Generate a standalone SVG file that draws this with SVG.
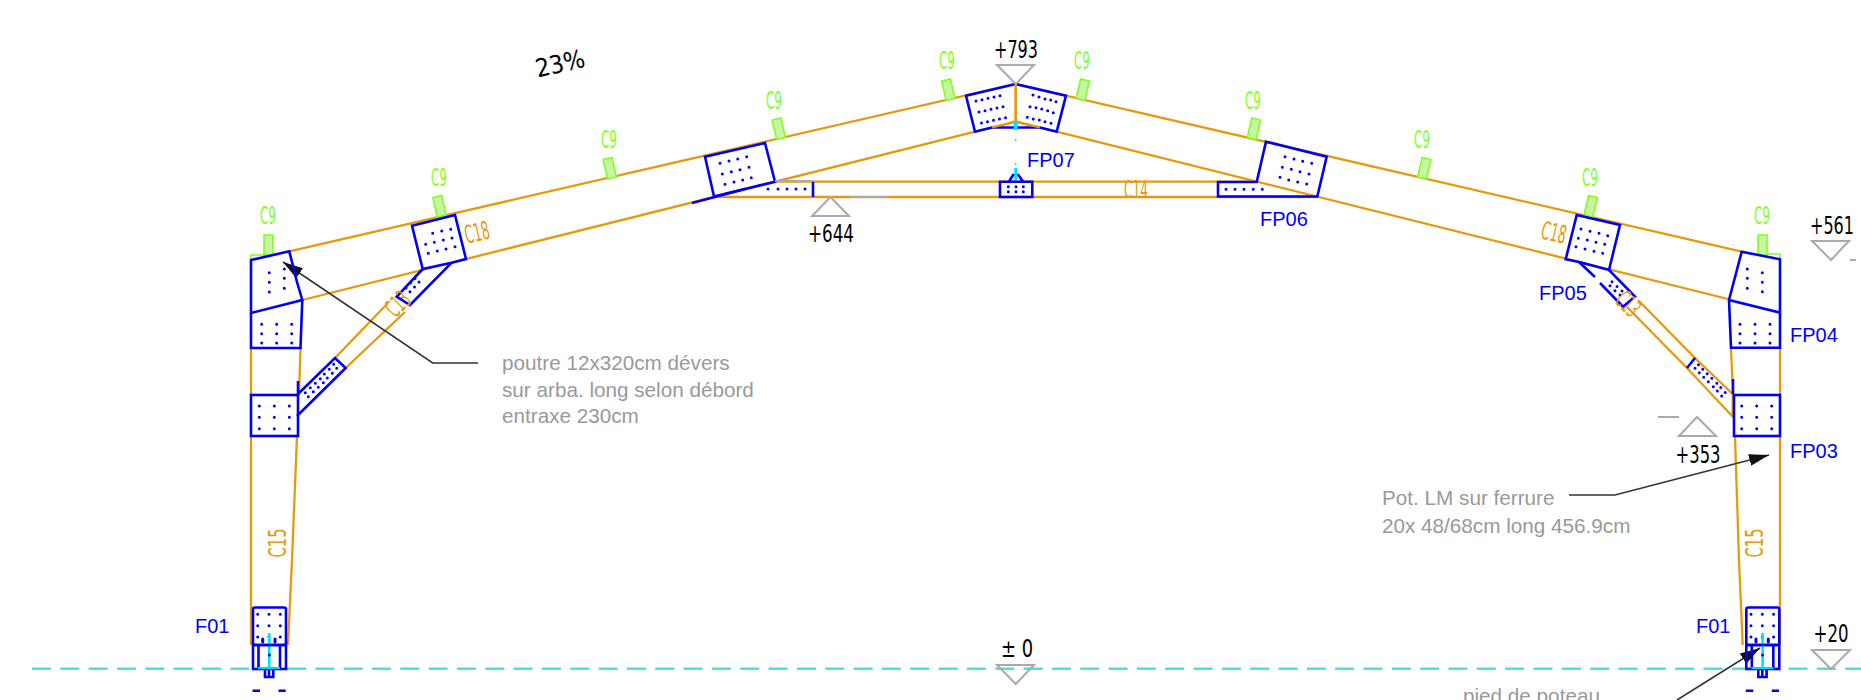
<svg xmlns="http://www.w3.org/2000/svg" width="1861" height="700" viewBox="0 0 1861 700">
<style>
.o{fill:none;stroke:#e59a0c;stroke-width:2.3}
.b{fill:none;stroke:#0000f5;stroke-width:2.6;stroke-linejoin:miter}
.d{fill:none;stroke:#0000f5;stroke-width:3;stroke-linecap:round}
.p{fill:#c8f5a4;stroke:#80ff20;stroke-width:1.6}
.gl{fill:none;stroke:#80ff20;stroke-width:1.6}
.t{fill:none;stroke:#aaa;stroke-width:2}
.lead{fill:none;stroke:#333;stroke-width:1.6}
.k{font-family:"DejaVu Sans Condensed","DejaVu Sans",sans-serif;font-size:25px;fill:#000;text-anchor:middle}
.g{font-family:"DejaVu Sans Condensed","DejaVu Sans",sans-serif;font-size:25px;fill:#80ff20;text-anchor:middle}
.c{font-family:"DejaVu Sans Condensed","DejaVu Sans",sans-serif;font-size:25px;fill:#e59a0c;text-anchor:middle}
.l{font-family:"Liberation Sans",Arial,sans-serif;font-size:20px;fill:#0000f5}
.n{font-family:"Liberation Sans",Arial,sans-serif;font-size:20.7px;fill:#999}
</style>
<defs>
<marker id="ah" markerUnits="userSpaceOnUse" markerWidth="22" markerHeight="12" refX="20" refY="6" orient="auto"><path d="M0 0L20 6L0 12Z" fill="#111"/></marker>
<g id="foot">
<rect class="b" x="253" y="607.5" width="33" height="37.5" rx="2"/>
<path class="d" d="M257.7 614.3h0M269 614.3h0M280.3 614.3h0M257.7 625.7h0M269 625.7h0M280.3 625.7h0M257.7 637h0M269 637h0M280.3 637h0M262.7 639v3M275 639v3"/>
<path d="M269.3 633V667" stroke="#00e5f0" stroke-width="2.6" fill="none"/>
<path class="d" d="M269.3 655h0"/>
<rect class="b" x="253" y="645" width="33" height="24" stroke-width="3"/>
<path class="b" d="M258.5 645V669M280 645V669"/>
<path d="M258 668H280" stroke="#00d8e8" stroke-width="2" fill="none"/>
<path class="b" d="M265 669V677H273.3V669M269 669V677" stroke-width="2"/>
<path class="b" d="M252.5 690.7H260M278.5 690.7H285.7"/>
</g>
<polygon id="pur" class="p" points="-4.5,0 -4.5,-20 4.5,-20 4.5,0"/>
</defs>
<rect width="1861" height="700" fill="#fff"/>

<g id="connectors">
<path d="M32 668.8H1861" stroke="#4fdfe0" stroke-width="2.6" stroke-dasharray="19 9.33" fill="none"/>
<path class="o" d="M289.3 251.3L1015.7 84L1741.7 251.7"/>
<path class="o" d="M302.3 300L975 131.7L992 127.5L1015.7 121.7L1040 127.5L1056.7 131.7L1728 299"/>
<path class="o" d="M1015.7 84V121.7"/>
<path class="o" d="M713 197H1318M775 181.7H1257"/>
<path class="o" d="M251 348V395M251 436V645M300.5 348L299 395M297 436L292 560L288 645"/>
<path class="o" d="M1780 348V395M1780 436V645M1731 348L1733 395M1735 436L1739 560L1742.7 645"/>
<path class="o" d="M388 303L335 358M405 312L345.7 368"/>
<path class="o" d="M1638 300L1695 358L1732.7 394V416.7L1687 368L1627 307"/>
<path d="M850 197H888" stroke="#aaa" stroke-width="2" fill="none"/>
<path class="lead" d="M478 363H432.7L283 262" marker-end="url(#ah)"/>
<path class="lead" d="M1569 495H1615L1769 455" marker-end="url(#ah)"/>
<path class="lead" d="M1677 700L1760 648" marker-end="url(#ah)"/>
</g>

<g id="purlins">
<g transform="translate(268.5,255) rotate(0)"><use href="#pur"/></g>
<path class="gl" d="M251 259V255H264"/>
<g transform="translate(441.7,216) rotate(-13)"><use href="#pur"/></g>
<g transform="translate(612,178) rotate(-13)"><use href="#pur"/></g>
<g transform="translate(781,138.5) rotate(-13)"><use href="#pur"/></g>
<g transform="translate(950.5,99.5) rotate(-13)"><use href="#pur"/></g>
<g transform="translate(1080.5,99.5) rotate(13)"><use href="#pur"/></g>
<g transform="translate(1251.7,138.5) rotate(13)"><use href="#pur"/></g>
<g transform="translate(1422,178) rotate(13)"><use href="#pur"/></g>
<g transform="translate(1588.5,216) rotate(13)"><use href="#pur"/></g>
<g transform="translate(1762.5,255)"><use href="#pur"/></g>
<path class="gl" d="M1767 254H1780V258"/>
</g>

<g id="F01-left"><use href="#foot"/></g>
<g id="F01-right"><use href="#foot" x="1493.3"/></g>

<g id="FP01-left-knee">
<path class="b" d="M251 260L289.3 251.3L297 282L302.3 300L251 313ZM251 313V348H300.5L302.3 300"/>
<rect class="b" x="251" y="395" width="47" height="41" stroke-width="3"/>
<path class="b" d="M298 381V394M298 394L335 358L345.7 368L297 416"/>
<path class="d" d="M269.3 272.7h0M269.3 282.3h0M269.3 292h0M284.3 269h0M284.3 278.3h0M284.3 288.3h0M261.7 324.3h0M276.7 324.3h0M291.7 324.3h0M261.7 333.7h0M276.7 333.7h0M291.7 333.7h0M261.7 343h0M276.7 343h0M291.7 343h0M259.3 406h0M274.3 406h0M289.3 406h0M259.3 417.3h0M274.3 417.3h0M289.3 417.3h0M259.3 428.7h0M274.3 428.7h0M289.3 428.7h0"/>
<path class="d" stroke-width="2.6" d="M308.3 396.7h0M313.3 391.7h0M318.3 387.3h0M323.3 382.7h0M327.3 378h0M332.3 373.3h0M336.7 368.3h0M305.3 392.7h0M310.3 387.7h0M315.3 383.3h0M320.3 378.7h0M324.3 374h0M329.3 369.3h0M333.7 364.3h0"/>
</g>

<g id="FP-left-mid">
<path class="b" d="M412 225.7L455 215L466 259L451.7 262.7L422.7 269Z"/>
<path class="b" d="M422.7 269L396.7 296.7L410 305L451.7 262.7"/>
<path class="d" d="M432.7 233.3h0M441.7 231h0M450.7 229.3h0M425.7 244.3h0M434.3 242.3h0M443.3 240h0M452 238h0M428.3 253.3h0M437.3 251h0M446 249h0M455 246.7h0M410 291.7h0M414.5 287h0M419 282h0M406 288h0M410.5 283h0M415 278.5h0"/>
</g>

<g id="FP-left-rafter">
<path class="b" d="M705 156.7L765 143L775 181.7L714 196.5Z"/>
<path class="b" d="M692 203L745 189"/>
<path class="b" d="M813 181.7V197"/>
<path d="M775 181H813" stroke="#aaa" stroke-width="2" fill="none"/>
<path class="d" d="M720 163.3h0M729 161h0M737.7 159h0M746.7 156.7h0M722.3 174h0M731.3 171.7h0M740 169.7h0M749 167.3h0M725 184.3h0M734 182h0M742.7 180h0M751.3 177.7h0M768 189h0M778 189h0M787 189h0M796 189h0M805 189h0"/>
</g>

<g id="FP07-apex">
<path class="b" d="M1015.7 84L966 95.7L975 131.7L992 127.5H1040L1056.7 131.7L1066 95.7L1015.7 84"/>
<path class="o" d="M1015.7 84V121.7M992 127.5L1015.7 121.7L1040 127.5"/>
<path class="d" d="M976 101h0M982 99.7h0M988 98.3h0M994 97h0M1000 95.7h0M979 112h0M985 110.7h0M991 109.3h0M997 108h0M1003 106.7h0M981.5 123h0M987.5 121.7h0M993.5 120.3h0M999.5 119h0M1005.5 117.7h0M1033 95h0M1039 97h0M1045 99h0M1050.7 100h0M1056 101.7h0M1030 106.7h0M1036 107.7h0M1041.7 109h0M1047.7 110.7h0M1053.3 112.7h0M1027.3 117.3h0M1033.3 119h0M1039.3 120h0M1045 121.7h0M1051 123.3h0"/>
</g>

<g id="FP07-tie">
<path class="b" d="M1000 181.7H1032.3V197H1000ZM1009 181.7L1013 175H1018.3L1023.3 181.7"/>
<path class="d" d="M1008.3 186.7h0M1016 186.7h0M1023.3 186.7h0M1008.3 191.7h0M1016 191.7h0M1023.3 191.7h0"/>
<path d="M1015.7 122V130" stroke="#00e5ff" stroke-width="4" fill="none"/>
<path d="M1015.7 139v2M1015.7 163v2" stroke="#00e5ff" stroke-width="1.5" fill="none"/>
<path d="M1015.7 168V180" stroke="#00e5ff" stroke-width="3" fill="none"/>
</g>

<g id="FP06">
<path class="b" d="M1266 141.7L1326.7 156.7L1317.3 196.5H1218V182H1256.7Z"/>
<path class="d" d="M1285 156.7h0M1294 159h0M1302.7 161.3h0M1311.7 163.3h0M1282.3 167.3h0M1291.3 169.3h0M1300 171.7h0M1309 174h0M1280 177.3h0M1288.7 180h0M1297.7 182h0M1306.7 184h0M1226 189.3h0M1235 189.3h0M1244 189.3h0M1253.3 189.3h0M1262.3 189.3h0"/>
</g>

<g id="FP05">
<path class="b" d="M1576.7 215L1620 225L1609 270L1579 262L1565.7 259.3Z"/>
<path class="b" d="M1579 262L1595 277M1600 283L1623 306.7L1635 296.7L1609 270"/>
<path class="d" d="M1581 229h0M1590 231.3h0M1599 233.3h0M1607.7 235.7h0M1578.3 238.3h0M1587.3 240h0M1596 242.3h0M1604.7 244.3h0M1576 246.7h0M1585 249h0M1594 251.3h0M1602.7 253.3h0M1610 285.7h0M1615 290.7h0M1620 295h0M1612 281.7h0M1617 286.5h0M1622 291h0"/>
</g>

<g id="FP04-FP03">
<path class="b" d="M1741.7 251.7L1780 259.3V312.7L1729 300L1741.7 251.7ZM1729 300L1731 347.7H1780V312.7"/>
<rect class="b" x="1734" y="395" width="46" height="41" stroke-width="3"/>
<path class="b" d="M1733 379V394M1687 368L1695 358"/>
<path class="d" d="M1747.3 269h0M1747.3 278.3h0M1747.3 288.3h0M1762.3 272.7h0M1762.3 282.3h0M1762.3 291.7h0M1740 324.3h0M1755 324.3h0M1770 324.3h0M1740 333.7h0M1755 333.7h0M1770 333.7h0M1740 343h0M1755 343h0M1770 343h0M1741.7 406h0M1756.7 406h0M1771.7 406h0M1741.7 417.3h0M1756.7 417.3h0M1771.7 417.3h0M1741.7 428.7h0M1756.7 428.7h0M1771.7 428.7h0"/>
<path class="d" stroke-width="2.6" d="M1695 368.3h0M1699.3 372.7h0M1703.7 377.3h0M1708.3 381.7h0M1713.3 386.7h0M1717.3 391h0M1721.7 396h0M1698.5 364.8h0M1702.8 369.2h0M1707.2 373.8h0M1711.8 378.2h0M1716.8 383.2h0M1720.8 387.5h0M1725.2 392.5h0"/>
</g>

<g id="levels">
<path class="t" d="M997 65H1034L1015.7 84ZM812 216H849L830.5 197ZM1812 241H1849L1831 260ZM1850 260H1856M1679 436H1716L1697 417ZM1658 417H1679M1812 650H1850L1831 669ZM997 665H1034L1015.7 684Z"/>
<text class="k" x="1016" y="58" textLength="44" lengthAdjust="spacingAndGlyphs">+793</text>
<text class="k" x="831" y="242" textLength="46" lengthAdjust="spacingAndGlyphs">+644</text>
<text class="k" x="1832" y="234" textLength="44" lengthAdjust="spacingAndGlyphs">+561</text>
<text class="k" x="1698" y="463" textLength="45" lengthAdjust="spacingAndGlyphs">+353</text>
<text class="k" x="1831" y="642" textLength="35" lengthAdjust="spacingAndGlyphs">+20</text>
<text class="k" x="1017" y="657" textLength="32" lengthAdjust="spacingAndGlyphs">± 0</text>
<text class="k" transform="translate(562,72) rotate(-13)" textLength="50" lengthAdjust="spacingAndGlyphs">23%</text>
</g>

<g id="labels">
<text class="g" x="268" y="224" textLength="16" lengthAdjust="spacingAndGlyphs">C9</text>
<text class="g" x="439" y="186" textLength="16" lengthAdjust="spacingAndGlyphs">C9</text>
<text class="g" x="609" y="148" textLength="16" lengthAdjust="spacingAndGlyphs">C9</text>
<text class="g" x="774" y="109" textLength="16" lengthAdjust="spacingAndGlyphs">C9</text>
<text class="g" x="947" y="69" textLength="16" lengthAdjust="spacingAndGlyphs">C9</text>
<text class="g" x="1082" y="69" textLength="16" lengthAdjust="spacingAndGlyphs">C9</text>
<text class="g" x="1253" y="109" textLength="16" lengthAdjust="spacingAndGlyphs">C9</text>
<text class="g" x="1422" y="148" textLength="16" lengthAdjust="spacingAndGlyphs">C9</text>
<text class="g" x="1590" y="186" textLength="16" lengthAdjust="spacingAndGlyphs">C9</text>
<text class="g" x="1762" y="224" textLength="16" lengthAdjust="spacingAndGlyphs">C9</text>
<text class="c" transform="translate(479,241) rotate(-13)" textLength="25" lengthAdjust="spacingAndGlyphs">C18</text>
<text class="c" transform="translate(1552,241) rotate(13)" textLength="25" lengthAdjust="spacingAndGlyphs">C18</text>
<text class="c" x="1136" y="198" textLength="24" lengthAdjust="spacingAndGlyphs">C14</text>
<text class="c" transform="translate(286,543) rotate(-90)" textLength="29" lengthAdjust="spacingAndGlyphs">C15</text>
<text class="c" transform="translate(1763,543) rotate(-90)" textLength="29" lengthAdjust="spacingAndGlyphs">C15</text>
<text class="c" transform="translate(404,310) rotate(-45)" textLength="24" lengthAdjust="spacingAndGlyphs">C13</text>
<text class="c" transform="translate(1622,310) rotate(45)" textLength="24" lengthAdjust="spacingAndGlyphs">C13</text>
<text class="l" x="195" y="633">F01</text>
<text class="l" x="1696" y="633">F01</text>
<text class="l" x="1027" y="167">FP07</text>
<text class="l" x="1260" y="226">FP06</text>
<text class="l" x="1539" y="300">FP05</text>
<text class="l" x="1790" y="342">FP04</text>
<text class="l" x="1790" y="458">FP03</text>
<text class="n" x="502" y="370">poutre 12x320cm dévers</text>
<text class="n" x="502" y="397">sur arba. long selon débord</text>
<text class="n" x="502" y="423">entraxe 230cm</text>
<text class="n" x="1382" y="505">Pot. LM sur ferrure</text>
<text class="n" x="1382" y="533">20x 48/68cm long 456.9cm</text>
<text class="n" x="1463" y="703">pied de poteau</text>
</g>
</svg>
